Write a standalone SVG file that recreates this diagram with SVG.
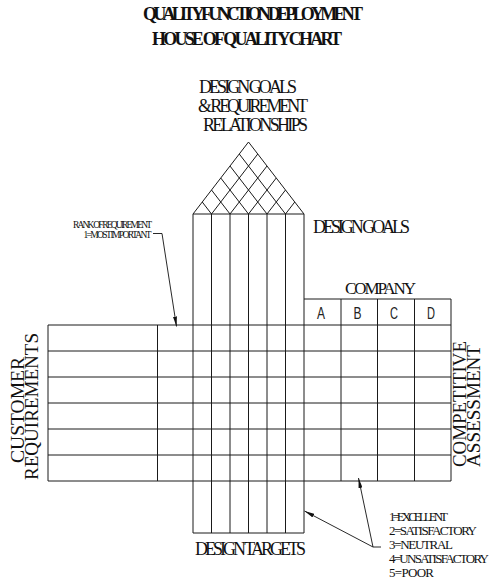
<svg xmlns="http://www.w3.org/2000/svg" width="493" height="582" viewBox="0 0 493 582">
<style>
.ln{stroke:#1a1a1a;stroke-width:1;fill:none}
.t{font-family:"Liberation Serif","Times New Roman",serif;fill:#111}
.b{font-weight:bold}
.m{font-family:"Liberation Sans",Arial,sans-serif;font-weight:normal;fill:#222}
.ar{stroke:#111;stroke-width:0.9;fill:none}
</style>
<defs>
<marker id="ah" viewBox="0 0 10 4" refX="10" refY="2" markerWidth="10" markerHeight="4" markerUnits="userSpaceOnUse" orient="auto-start-reverse">
<path d="M0,0 L10,2 L0,4 z" fill="#111"/>
</marker>
</defs>
<rect width="493" height="582" fill="#fff"/>
<g id="title">
<text class="t b" x="143" y="20" font-size="18" textLength="220" lengthAdjust="spacing">QUALITY FUNCTION DEPLOYMENT</text>
<text class="t b" x="152" y="45" font-size="18" textLength="190" lengthAdjust="spacing">HOUSE OF QUALITY CHART</text>
</g>
<g id="roof">
<text class="t" x="199" y="93" font-size="18" textLength="98" lengthAdjust="spacing">DESIGN GOALS</text>
<text class="t" x="198" y="112" font-size="18" textLength="110" lengthAdjust="spacing">&amp; REQUIREMENT</text>
<text class="t" x="203" y="131" font-size="18" textLength="105" lengthAdjust="spacing">RELATIONSHIPS</text>
<path class="ln" d="M193,214 L248.5,142 L304,214 Z"/>
<path class="ln" d="M211.5,214 L257.75,154 M230,214 L267,166 M248.5,214 L276.25,178 M267,214 L285.5,190 M285.5,214 L294.75,202
M285.5,214 L239.25,154 M267,214 L230,166 M248.5,214 L220.75,178 M230,214 L211.5,190 M211.5,214 L202.25,202"/>
</g>
<g id="design-goals">
<text class="t" x="313" y="233" font-size="18" textLength="97" lengthAdjust="spacing">DESIGN GOALS</text>
</g>
<g id="columns">
<path class="ln" d="M193,214 V533 M211.5,214 V533 M230,214 V533 M248.5,214 V533 M267,214 V533 M285.5,214 V533 M304,214 V533 M193,533 H304"/>
</g>
<g id="customer-requirements">
<path class="ln" d="M48,325 H451 M48,351 H451 M48,377 H451 M48,403 H451 M48,429 H451 M48,455 H451 M48,481 H451 M48,325 V481 M157.5,325 V481"/>
<text class="t" transform="translate(24,410) rotate(-90)" font-size="19" text-anchor="middle" textLength="106" lengthAdjust="spacingAndGlyphs">CUSTOMER</text>
<text class="t" transform="translate(38,406.5) rotate(-90)" font-size="19" text-anchor="middle" textLength="147" lengthAdjust="spacingAndGlyphs">REQUIREMENTS</text>
</g>
<g id="company">
<path class="ln" d="M304,299 H451 M341,299 V481 M377.5,299 V481 M414.5,299 V481 M451,299 V481"/>
<text class="t" x="345" y="294" font-size="17" textLength="71" lengthAdjust="spacing">COMPANY</text>
<text class="m" x="321" y="318.5" font-size="16" text-anchor="middle" textLength="8" lengthAdjust="spacingAndGlyphs">A</text>
<text class="m" x="357.5" y="318.5" font-size="16" text-anchor="middle" textLength="8" lengthAdjust="spacingAndGlyphs">B</text>
<text class="m" x="394" y="318.5" font-size="16" text-anchor="middle" textLength="8" lengthAdjust="spacingAndGlyphs">C</text>
<text class="m" x="431" y="318.5" font-size="16" text-anchor="middle" textLength="8" lengthAdjust="spacingAndGlyphs">D</text>
</g>
<g id="competitive-assessment">
<text class="t" transform="translate(466,467) rotate(-90)" font-size="19" textLength="126" lengthAdjust="spacingAndGlyphs">COMPETITIVE</text>
<text class="t" transform="translate(480,467) rotate(-90)" font-size="19" textLength="122" lengthAdjust="spacingAndGlyphs">ASSESSMENT</text>
</g>
<g id="design-targets">
<text class="t" x="195" y="555" font-size="18" textLength="111" lengthAdjust="spacing">DESIGN TARGETS</text>
</g>
<g id="rank-note">
<text class="t" x="73" y="227.5" font-size="9.5" textLength="79" lengthAdjust="spacing">RANK OF REQUIREMENT</text>
<text class="t" x="83.5" y="237.5" font-size="9.5" textLength="68" lengthAdjust="spacing">1=MOST IMPORTANT</text>
</g>
<g id="legend">
<text class="t" x="389" y="521" font-size="13" textLength="59" lengthAdjust="spacing">1=EXCELLENT</text>
<text class="t" x="389" y="535" font-size="13" textLength="88" lengthAdjust="spacing">2=SATISFACTORY</text>
<text class="t" x="389" y="549" font-size="13" textLength="64" lengthAdjust="spacing">3=NEUTRAL</text>
<text class="t" x="389" y="563" font-size="13" textLength="100" lengthAdjust="spacing">4=UNSATISFACTORY</text>
<text class="t" x="389" y="577" font-size="13" textLength="45" lengthAdjust="spacing">5=POOR</text>
</g>
<g id="connectors">
<path class="ar" d="M153,233.5 H162 L176.5,326.5" marker-end="url(#ah)"/>
<path class="ar" d="M304.5,511 L373,547 L358.5,478" marker-start="url(#ah)" marker-end="url(#ah)"/>
<path class="ar" d="M373,547 H381"/>
</g>
</svg>
